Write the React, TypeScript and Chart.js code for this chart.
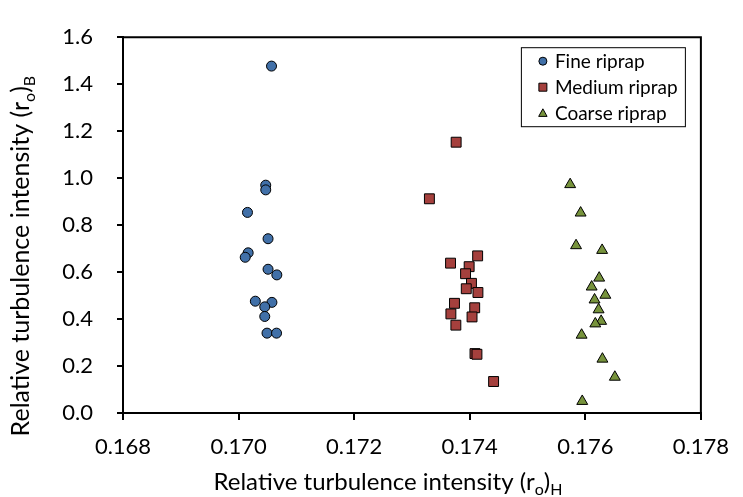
import { useEffect, useRef } from "react";
import { Chart, registerables } from "chart.js";

Chart.register(...registerables);

// Relative turbulence intensity, horizontal (x) vs bed (y), per riprap size
const fineX = [0.17057, 0.17047, 0.17047, 0.170154, 0.17051, 0.170166, 0.170115, 0.17051, 0.170662, 0.17029, 0.170577, 0.170453, 0.170453, 0.170492, 0.170657];
const fineY = [1.477, 0.97, 0.95, 0.854, 0.742, 0.682, 0.663, 0.612, 0.588, 0.476, 0.471, 0.452, 0.411, 0.34, 0.34];

const mediumX = [0.173765, 0.173302, 0.174137, 0.173668, 0.17399, 0.173928, 0.17403, 0.17394, 0.174142, 0.173736, 0.174086, 0.173674, 0.17404, 0.17376, 0.174091, 0.174125, 0.174413];
const mediumY = [1.153, 0.912, 0.669, 0.638, 0.623, 0.593, 0.552, 0.529, 0.513, 0.467, 0.448, 0.422, 0.409, 0.374, 0.253, 0.25, 0.134];

const coarseX = [0.175738, 0.175919, 0.17584, 0.176291, 0.17624, 0.17611, 0.176347, 0.17616, 0.17623, 0.176274, 0.176173, 0.175936, 0.176296, 0.176511, 0.175947];
const coarseY = [0.973, 0.852, 0.713, 0.693, 0.575, 0.537, 0.502, 0.482, 0.44, 0.391, 0.38, 0.332, 0.23, 0.153, 0.05];

const seriesNames = ["Fine riprap", "Medium riprap", "Coarse riprap"];
const seriesFill = ["#4170A8", "#A5403D", "#77933C"];
const seriesShape = ["circle", "rect", "triangle"];

const xTickValues = [0.168, 0.17, 0.172, 0.174, 0.176, 0.178];
const yTickValues = [0, 0.2, 0.4, 0.6, 0.8, 1.0, 1.2, 1.4, 1.6];

// Axis titles as [text, isSubscript] runs
const xTitleRuns: [string, boolean][] = [["Relative turbulence intensity (r", false], ["o", true], [")", false], ["H", true]];
const yTitleRuns: [string, boolean][] = [["Relative turbulence intensity (r", false], ["o", true], [")", false], ["B", true]];

const FONT = "Lato, 'Open Sans', sans-serif";

const zip = (xs: number[], ys: number[]) => xs.map((x, i) => ({ x, y: ys[i] }));

function runsWidth(ctx: CanvasRenderingContext2D, runs: [string, boolean][], size: number) {
  let w = 0;
  for (const [t, sub] of runs) {
    ctx.font = `${sub ? Math.round(size * 0.65) : size}px ${FONT}`;
    w += ctx.measureText(t).width;
  }
  return w;
}

function drawRuns(ctx: CanvasRenderingContext2D, runs: [string, boolean][], size: number, x: number, y: number) {
  let cx = x;
  ctx.textAlign = "left";
  ctx.textBaseline = "alphabetic";
  for (const [t, sub] of runs) {
    const s = sub ? Math.round(size * 0.65) : size;
    ctx.font = `${s}px ${FONT}`;
    ctx.fillText(t, cx, sub ? y + size * 0.22 : y);
    cx += ctx.measureText(t).width;
  }
}

function drawMarker(ctx: CanvasRenderingContext2D, shape: string, x: number, y: number, r: number, fill: string) {
  ctx.beginPath();
  if (shape === "circle") {
    ctx.arc(x, y, r, 0, Math.PI * 2);
  } else if (shape === "rect") {
    ctx.rect(x - r, y - r, 2 * r, 2 * r);
  } else {
    ctx.moveTo(x, y - r * 1.1);
    ctx.lineTo(x + r * 1.05, y + r * 0.8);
    ctx.lineTo(x - r * 1.05, y + r * 0.8);
    ctx.closePath();
  }
  ctx.fillStyle = fill;
  ctx.fill();
  ctx.lineWidth = 1;
  ctx.strokeStyle = "#000";
  ctx.stroke();
}

const decorations = {
  id: "decorations",
  afterDraw(chart: Chart) {
    const { ctx, chartArea } = chart;
    const { left, right, top, bottom } = chartArea;
    ctx.save();

    // closing lines of the plot frame
    ctx.strokeStyle = "#000";
    ctx.lineWidth = 2;
    ctx.beginPath();
    ctx.moveTo(left, top);
    ctx.lineTo(right, top);
    ctx.lineTo(right, bottom);
    ctx.stroke();

    ctx.fillStyle = "#000";

    // x axis title
    const xSize = 24;
    const xw = runsWidth(ctx, xTitleRuns, xSize);
    const xCenter = (left + right) / 2 - 24;
    drawRuns(ctx, xTitleRuns, xSize, xCenter - xw / 2, bottom + 77);

    // y axis title (rotated)
    const ySize = 25;
    const yw = runsWidth(ctx, yTitleRuns, ySize);
    const yCenter = (top + bottom) / 2 + 31;
    ctx.save();
    ctx.translate(29, yCenter);
    ctx.rotate(-Math.PI / 2);
    drawRuns(ctx, yTitleRuns, ySize, -yw / 2, 0);
    ctx.restore();

    // legend box
    const boxW = 164;
    const boxH = 79;
    const bx = right - 16 - boxW;
    const by = top + 10;
    ctx.fillStyle = "#fff";
    ctx.fillRect(bx, by, boxW, boxH);
    ctx.lineWidth = 1;
    ctx.strokeStyle = "#000";
    ctx.strokeRect(bx + 0.5, by + 0.5, boxW, boxH);
    ctx.font = `19px ${FONT}`;
    ctx.textBaseline = "middle";
    seriesNames.forEach((name, i) => {
      const cy = by + 14 + i * 26;
      drawMarker(ctx, seriesShape[i], bx + 22, cy, 4, seriesFill[i]);
      ctx.fillStyle = "#000";
      ctx.textAlign = "left";
      ctx.fillText(name, bx + 34, cy + 1);
    });

    ctx.restore();
  },
};

export default function App() {
  const canvasRef = useRef<HTMLCanvasElement | null>(null);

  useEffect(() => {
    const canvas = canvasRef.current;
    if (!canvas) return;
    const pointSets = [zip(fineX, fineY), zip(mediumX, mediumY), zip(coarseX, coarseY)];
    const radii = [5, 7, 6.3];
    const chart = new Chart(canvas, {
      type: "scatter",
      data: {
        datasets: seriesNames.map((name, i) => ({
          label: name,
          data: pointSets[i],
          pointStyle: seriesShape[i] as any,
          pointRadius: radii[i],
          pointBackgroundColor: seriesFill[i],
          pointBorderColor: "#000",
          pointBorderWidth: 1,
          showLine: false,
        })),
      },
      options: {
        responsive: false,
        animation: false,
        devicePixelRatio: 1,
        layout: { padding: { top: 19, right: 29, left: 0, bottom: 0 } },
        plugins: {
          legend: { display: false },
          tooltip: { enabled: false },
        },
        scales: {
          x: {
            type: "linear",
            min: 0.168,
            max: 0.178,
            afterBuildTicks: (scale: any) => {
              scale.ticks = xTickValues.map((v) => ({ value: v }));
            },
            afterFit: (scale: any) => {
              scale.height = 84;
            },
            ticks: {
              color: "#000",
              font: { family: FONT, size: 22 },
              padding: 14,
              maxRotation: 0,
              callback: (v: any) => Number(v).toFixed(3),
            },
            grid: {
              drawOnChartArea: false,
              drawTicks: true,
              tickLength: 7,
              color: "#000",
              lineWidth: 2,
            },
            border: { display: true, color: "#000", width: 2 },
          },
          y: {
            type: "linear",
            min: 0,
            max: 1.6,
            afterBuildTicks: (scale: any) => {
              scale.ticks = yTickValues.map((v) => ({ value: v }));
            },
            afterFit: (scale: any) => {
              scale.width = 123;
            },
            ticks: {
              color: "#000",
              font: { family: FONT, size: 22 },
              padding: 24,
              callback: (v: any) => Number(v).toFixed(1),
            },
            grid: {
              drawOnChartArea: false,
              drawTicks: true,
              tickLength: 6,
              color: "#000",
              lineWidth: 2,
            },
            border: { display: true, color: "#000", width: 2 },
          },
        },
      },
      plugins: [decorations],
    });
    return () => chart.destroy();
  }, []);

  return (
    <div style={{ position: "fixed", left: 0, top: 0, width: 743, height: 497, background: "#fff" }}>
      <canvas ref={canvasRef} width={743} height={497} style={{ display: "block" }} />
    </div>
  );
}
